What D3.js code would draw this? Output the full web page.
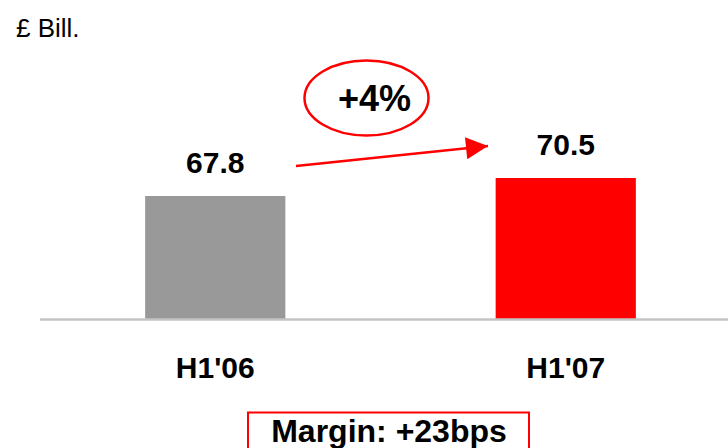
<!DOCTYPE html>
<html>
<head>
<meta charset="utf-8">
<script src="https://cdn.jsdelivr.net/npm/d3@7"></script>
<style>
  html, body { margin: 0; padding: 0; background: #fff; }
  svg { display: block; font-family: "Liberation Sans", Arial, sans-serif; }
</style>
</head>
<body>
<svg id="chart" width="728" height="448"></svg>
<script>
// Half-year revenue, £ billions
const periods = ["H1'06", "H1'07"];
const revenue = [67.8, 70.5];
const barColors = ["#999999", "#ff0000"];
const unitLabel = "£ Bill.";
const growthLabel = "+4%";
const marginLabel = "Margin: +23bps";

const svg = d3.select("#chart");
const W = 728, H = 448;
const baseY = 319;

const x = d3.scaleBand()
  .domain(periods)
  .range([40, 741])
  .paddingInner(0.6)
  .paddingOuter(0.3);

// Value axis is truncated (does not start at zero)
const y = d3.scaleLinear()
  .domain([49.35, 97.2])
  .range([baseY, 0]);

// Unit caption
svg.append("text")
  .attr("x", 16).attr("y", 37)
  .attr("font-size", 26)
  .attr("fill", "#000")
  .text(unitLabel);

// Bars
svg.selectAll("rect.bar")
  .data(revenue)
  .join("rect")
  .attr("class", "bar")
  .attr("x", (d, i) => x(periods[i]))
  .attr("width", x.bandwidth())
  .attr("y", d => y(d))
  .attr("height", d => baseY - y(d))
  .attr("fill", (d, i) => barColors[i]);

// Baseline
svg.append("line")
  .attr("x1", 40).attr("x2", W)
  .attr("y1", baseY + 0.5).attr("y2", baseY + 0.5)
  .attr("stroke", "#c4c4c4")
  .attr("stroke-width", 2.5);

// Value labels above bars
svg.selectAll("text.val")
  .data(revenue)
  .join("text")
  .attr("class", "val")
  .attr("x", (d, i) => x(periods[i]) + x.bandwidth() / 2)
  .attr("y", d => y(d) - 23.5)
  .attr("text-anchor", "middle")
  .attr("font-size", 30)
  .attr("font-weight", "bold")
  .text(d => d.toFixed(1));

// Category labels
const xAxis = d3.axisBottom(x).tickSize(0).tickPadding(0);
const gx = svg.append("g")
  .attr("transform", `translate(0,${baseY})`)
  .call(xAxis);
gx.select(".domain").remove();
gx.selectAll("text")
  .attr("y", 58.5)
  .attr("dy", 0)
  .attr("font-size", 30)
  .attr("font-weight", "bold")
  .attr("font-family", "Liberation Sans, Arial, sans-serif")
  .attr("fill", "#000");

// Growth arrow
const defs = svg.append("defs");
defs.append("marker")
  .attr("id", "arrowhead")
  .attr("viewBox", "0 0 10 10")
  .attr("refX", 10).attr("refY", 5)
  .attr("markerUnits", "userSpaceOnUse")
  .attr("markerWidth", 23).attr("markerHeight", 22)
  .attr("orient", "auto")
  .append("path")
  .attr("d", "M0,0 L10,5 L0,10 Z")
  .attr("fill", "#ff0000");

svg.append("line")
  .attr("x1", 296).attr("y1", 166)
  .attr("x2", 488).attr("y2", 146)
  .attr("stroke", "#ff0000")
  .attr("stroke-width", 2.5)
  .attr("marker-end", "url(#arrowhead)");

// Growth callout
svg.append("ellipse")
  .attr("cx", 366.5).attr("cy", 98)
  .attr("rx", 62).attr("ry", 37.5)
  .attr("fill", "none")
  .attr("stroke", "#ff0000")
  .attr("stroke-width", 2.5);

svg.append("text")
  .attr("x", 374.5).attr("y", 110.5)
  .attr("text-anchor", "middle")
  .attr("font-size", 36)
  .attr("font-weight", "bold")
  .text(growthLabel);

// Margin box
svg.append("rect")
  .attr("x", 248).attr("y", 412.5)
  .attr("width", 281).attr("height", 50)
  .attr("fill", "none")
  .attr("stroke", "#ff0000")
  .attr("stroke-width", 2);

svg.append("text")
  .attr("x", 389).attr("y", 441.5)
  .attr("text-anchor", "middle")
  .attr("font-size", 32)
  .attr("font-weight", "bold")
  .text(marginLabel);
</script>
</body>
</html>
